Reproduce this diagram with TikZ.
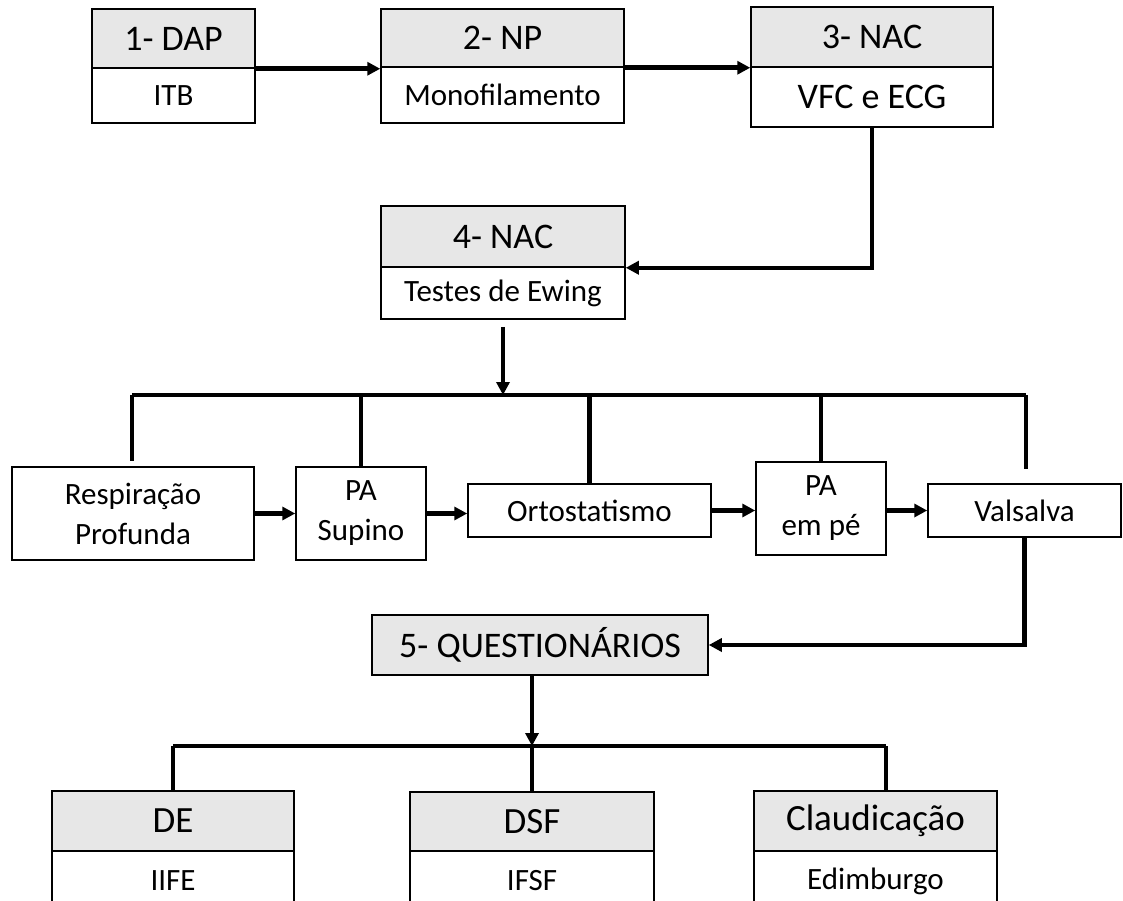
\documentclass[tikz,border=0pt]{standalone}
\usepackage{fontspec}
\setmainfont{Carlito}
\usetikzlibrary{arrows.meta}
\definecolor{hdrgray}{RGB}{231,231,231}
\tikzset{every picture/.style={line width=1.5pt}}
\tikzset{
  hdbox/.style={draw, fill=hdrgray, inner sep=0pt, font=\fontsize{36}{40}\selectfont},
  bdbox/.style={draw, fill=white, inner sep=0pt, font=\fontsize{31}{38}\selectfont},
  tstbox/.style={draw, fill=white, inner sep=0pt, align=center, font=\fontsize{31}{40}\selectfont},
  link/.style={line width=4.5pt},
  flow/.style={line width=4.5pt, -{Triangle[length=13pt,width=13pt]}},
}

\begin{document}
\begin{tikzpicture}[x=1pt,y=1pt,yscale=-1]
\useasboundingbox (0,0) rectangle (1123,901);

% Text Node
\node[hdbox, minimum width=163, minimum height=59] (dapH) at (173.5,38.5) {1- DAP};
\node[bdbox, minimum width=163, minimum height=55] (dapB) at (173.5,95.5) {ITB};
% Text Node
\node[hdbox, minimum width=243, minimum height=58] (npH) at (502.5,38) {2- NP};
\node[bdbox, minimum width=243, minimum height=56] (npB) at (502.5,95) {Monofilamento};
% Text Node
\node[hdbox, minimum width=242, minimum height=60] (nacH) at (872,37) {3- NAC};
\node[bdbox, minimum width=242, minimum height=60, font=\fontsize{36}{40}\selectfont] (nacB) at (872,97) {VFC e ECG};
% Text Node
\node[hdbox, minimum width=244, minimum height=61] (ewingH) at (503,236.5) {4- NAC};
\node[bdbox, minimum width=244, minimum height=52] (ewingB) at (503,293) {Testes de Ewing};

% Text Node
\node[tstbox, minimum width=242, minimum height=93] (resp) at (133,513.5) {Respiração\\Profunda};
\node[tstbox, minimum width=130, minimum height=93] (supino) at (361,513.5) {PA\\Supino};
\node[tstbox, minimum width=243, minimum height=53] (orto) at (589.5,510.5) {Ortostatismo};
\node[tstbox, minimum width=130, minimum height=93] (empe) at (821,508.5) {PA\\em pé};
\node[tstbox, minimum width=193, minimum height=53] (valsalva) at (1024.5,510.5) {Valsalva};

% Text Node
\node[hdbox, minimum width=336, minimum height=60] (quest) at (540,645) {5- QUESTIONÁRIOS};

% Text Node
\node[hdbox, minimum width=242, minimum height=60, font=\fontsize{37}{40}\selectfont] (deH) at (173,821) {DE};
\node[bdbox, minimum width=242, minimum height=60] (deB) at (173,881) {IIFE};
\node[hdbox, minimum width=244, minimum height=59, font=\fontsize{37}{40}\selectfont] (dsfH) at (532,821.5) {DSF};
\node[bdbox, minimum width=244, minimum height=60] (dsfB) at (532,881) {IFSF};
\node[hdbox, minimum width=243, minimum height=60, font=\fontsize{37}{40}\selectfont] (claudH) at (875.5,821) {Claudicação};
\node[bdbox, minimum width=243, minimum height=60] (claudB) at (875.5,881) {Edimburgo};

\coordinate (busL) at (132,395);
\coordinate (busR) at (1026,395);
\coordinate (lowL) at (173,746);
\coordinate (lowR) at (886,746);

%Straight Lines
\draw[flow] (dapH.south east) -- (dapH.south east -| npH.west);
\draw[flow] (npH.south east) -- (npH.south east -| nacH.west);
\draw[flow] (nacB.south) |- (ewingH.south east);
\draw[flow] ([yshift=7pt]ewingB.south) -- (ewingB.south |- busL);

%Straight Lines
\draw[link] (busL) -- (busR);
\draw[link, shorten >=5pt] (busL) -- (busL |- resp.north);
\draw[link] (supino.north |- busL) -- (supino.north);
\draw[link] (orto.north |- busL) -- (orto.north);
\draw[link] (empe.north |- busL) -- (empe.north);
\draw[link, shorten >=14pt] (busR) -- (busR |- valsalva.north);

%Straight Lines
\draw[flow] (resp.east) -- (supino.west);
\draw[flow] (supino.east) -- (supino.east -| orto.west);
\draw[flow] (orto.east) -- (orto.east -| empe.west);
\draw[flow] (empe.east |- valsalva.west) -- (valsalva.west);
\draw[flow] (valsalva.south) |- (quest.east);

%Straight Lines
\draw[flow] (quest.south -| dsfH.north) -- (dsfH.north |- lowL);
\draw[link] (lowL) -- (lowR);
\draw[link] (lowL) -- (deH.north);
\draw[link] (dsfH.north |- lowL) -- (dsfH.north);
\draw[link] (lowR) -- (lowR |- claudH.north);

\end{tikzpicture}
\end{document}
